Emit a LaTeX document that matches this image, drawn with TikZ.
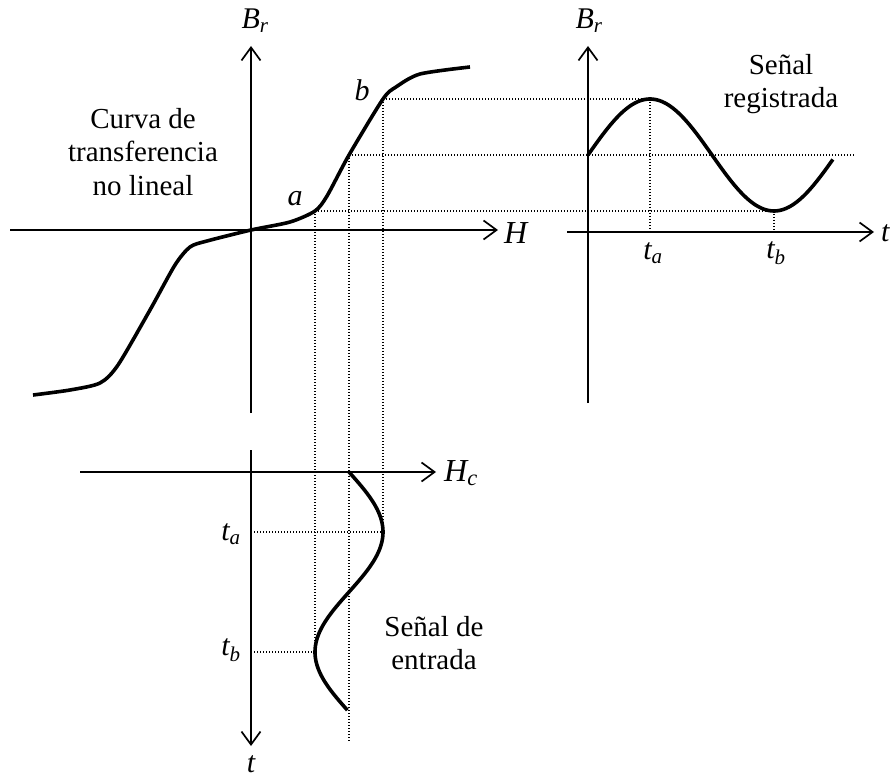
\documentclass[tikz,border=0pt]{standalone}
\usepackage{fontspec}
\setmainfont{Liberation Serif}
\usetikzlibrary{arrows.meta,positioning}

\begin{document}
\begin{tikzpicture}[x=1pt, y=-1pt,
      axis/.style={line width=1.7pt, -{Straight Barb[length=13pt, width=19pt]}},
      curve/.style={line width=3.6pt, line join=round},
      guide/.style={line width=1.2pt, dash pattern=on 1.2pt off 1.8pt},
      lbl/.style={font=\fontsize{30}{32}\selectfont\itshape, inner sep=0pt},
      biglbl/.style={font=\fontsize{32}{34}\selectfont\itshape, inner sep=0pt},
      txt/.style={font=\fontsize{29}{33.5}\selectfont, align=center, inner sep=0pt}
    ]
      \useasboundingbox (0,0) rectangle (892,778);

      % Key points
      \coordinate (a) at (315,211);
      \coordinate (m) at (349,155);
      \coordinate (b) at (383,99);

      % Transfer curve axes
      \coordinate (hL) at (10,230);
      \coordinate (hR) at (498,230);
      \coordinate (vB) at (251,413);
      \coordinate (vT) at (251,46);
      \draw[axis] (hL) -- (hR);
      \draw[axis] (vB) -- (vT);
      \node[lbl] (brmain) at (255,21) {B\textsubscript{r}};
      \node[biglbl, anchor=west] (hlab) at (504,233) {H};

      % Transfer curve
      \draw[curve] plot[smooth, tension=0.45] coordinates {(33,395) (70,390) (100,383) (118,365)
        (150,310) (175,265) (190,247) (207,241) (251,230) (290,222) (a) (327,196) (m) (b)
        (396,87) (420,74) (470,67)};
      \node[lbl] (alab) at (295,199) {a};
      \node[lbl] (blab) at (362,90) {b};
      \node[txt] (curvetxt) at (143,152) {Curva de\\transferencia\\no lineal};

      % Recorded signal
      \coordinate (rhL) at (567,232);
      \coordinate (rhR) at (874,232);
      \coordinate (rvB) at (588,403);
      \coordinate (rvT) at (588,46);
      \draw[axis] (rhL) -- (rhR);
      \draw[axis] (rvB) -- (rvT);
      \node[lbl] (brsig) at (589,21) {B\textsubscript{r}};
      \node[lbl, anchor=west] (tsig) at (881,233) {t};
      \draw[curve] plot[domain=0:3.95, samples=90, smooth] ({588+62*\x},{155-56*sin(90*\x)});
      \coordinate (pk) at (650,99);
      \coordinate (mn) at (774,211);
      \coordinate (me) at (855,155);
      \coordinate (rta) at (650,232);
      \coordinate (rtb) at (774,232);
      \node[lbl] (tasig) at (653,253) {t\textsubscript{a}};
      \node[lbl] (tbsig) at (776,253) {t\textsubscript{b}};
      \node[txt] (sigtxt) at (781,84) {Señal\\registrada};

      % Input signal
      \coordinate (bhL) at (80,472);
      \coordinate (bhR) at (436,472);
      \coordinate (bvT) at (251,450);
      \coordinate (bvB) at (251,746);
      \draw[axis] (bhL) -- (bhR);
      \draw[axis] (bvT) -- (bvB);
      \node[biglbl, anchor=west] (hclab) at (444,473) {H\textsubscript{c}};
      \node[lbl] (tin) at (251,764) {t};
      \draw[curve] plot[domain=0:3.97, samples=90, smooth] ({349+34*sin(90*\x)},{472+60*\x});
      \coordinate (ina) at (383,532);
      \coordinate (inb) at (315,652);
      \coordinate (bta) at (251,532);
      \coordinate (btb) at (251,652);
      \coordinate (mend) at (349,742);
      \node[lbl] (tain) at (231,534) {t\textsubscript{a}};
      \node[lbl] (tbin) at (231,650) {t\textsubscript{b}};
      \node[txt] (intxt) at (434,643) {Señal de\\entrada};

      % Projection lines
      \draw[guide] (b) -- (pk);
      \draw[guide] (m) -- (me);
      \draw[guide] (a) -- (mn);
      \draw[guide] (pk) -- (rta);
      \draw[guide] (mn) -- (rtb);
      \draw[guide] (b) -- (ina);
      \draw[guide] (m) -- (mend);
      \draw[guide] (a) -- (inb);
      \draw[guide] (bta) -- (ina);
      \draw[guide] (btb) -- (inb);
    \end{tikzpicture}
\end{document}
